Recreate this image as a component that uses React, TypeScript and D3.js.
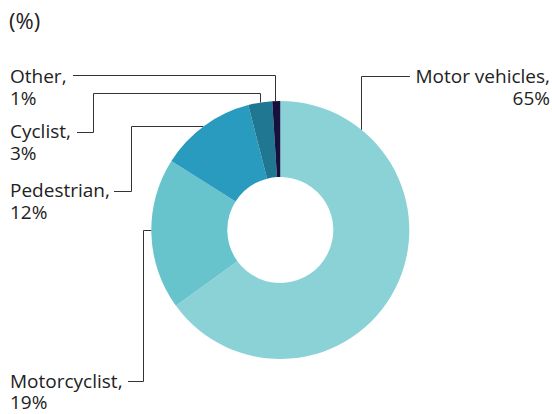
import React from "react";
import * as d3 from "d3";

const categories = ["Motor vehicles", "Motorcyclist", "Pedestrian", "Cyclist", "Other"];
const values = [65, 19, 12, 3, 1];
const colors = ["#8bd2d6", "#67c4cd", "#289bbf", "#1f7792", "#15103d"];

const W = 552, H = 414;
const cx = 280.3, cy = 230, R = 129, r0 = 53;
const FONT = "'Open Sans', sans-serif";
const FS = 19;
const LINE = 21.5;

type Leader = {
  textX: number; textY: number; anchor: "start" | "end";
  pts: [number, number][];
  end: "vertical" | "horizontal";
};

const layout: Record<string, Leader> = {
  "Motor vehicles": { textX: 550, textY: 83, anchor: "end", pts: [[410, 76.5], [361.5, 76.5]], end: "vertical" },
  "Other": { textX: 10, textY: 83, anchor: "start", pts: [[73, 75.5], [275.5, 75.5]], end: "vertical" },
  "Cyclist": { textX: 10, textY: 138, anchor: "start", pts: [[77, 132.5], [93.5, 132.5], [93.5, 93.5], [260.5, 93.5]], end: "vertical" },
  "Pedestrian": { textX: 10, textY: 197, anchor: "start", pts: [[114, 191.5], [131.5, 191.5], [131.5, 126.5]], end: "horizontal" },
  "Motorcyclist": { textX: 10, textY: 387.5, anchor: "start", pts: [[128, 381.5], [143.5, 381.5], [143.5, 230.5]], end: "horizontal" },
};

export default function App() {
  const pie = d3.pie<number>().sort(null).value((d) => d);
  const arcs = pie(values);
  const arc = d3.arc<d3.PieArcDatum<number>>().innerRadius(r0).outerRadius(R);

  const leaderPath = (l: Leader) => {
    const pts = l.pts.slice();
    const last = pts[pts.length - 1];
    if (l.end === "vertical") {
      const dx = last[0] - cx;
      pts.push([last[0], cy - Math.sqrt(R * R - dx * dx)]);
    } else {
      const dy = last[1] - cy;
      pts.push([cx - Math.sqrt(R * R - dy * dy), last[1]]);
    }
    return d3.line()(pts) || "";
  };

  return (
    <svg width={W} height={H} style={{ position: "absolute", left: 0, top: 0 }}>
      <rect width={W} height={H} fill="#fff" />
      <text x={9} y={29} fontFamily={FONT} fontSize={22} fill="#222">(%)</text>
      <g transform={`translate(${cx},${cy})`}>
        {arcs.map((a, i) => (
          <path key={i} d={arc(a) || ""} fill={colors[i]} />
        ))}
      </g>
      {categories.map((c, i) => {
        const l = layout[c];
        return (
          <g key={c}>
            <path d={leaderPath(l)} fill="none" stroke="#333" strokeWidth={1} />
            <text x={l.textX} y={l.textY} textAnchor={l.anchor} fontFamily={FONT} fontSize={FS} fill="#222">
              {c + ","}
            </text>
            <text x={l.textX} y={l.textY + LINE} textAnchor={l.anchor} fontFamily={FONT} fontSize={FS} fill="#222">
              {values[i] + "%"}
            </text>
          </g>
        );
      })}
    </svg>
  );
}
